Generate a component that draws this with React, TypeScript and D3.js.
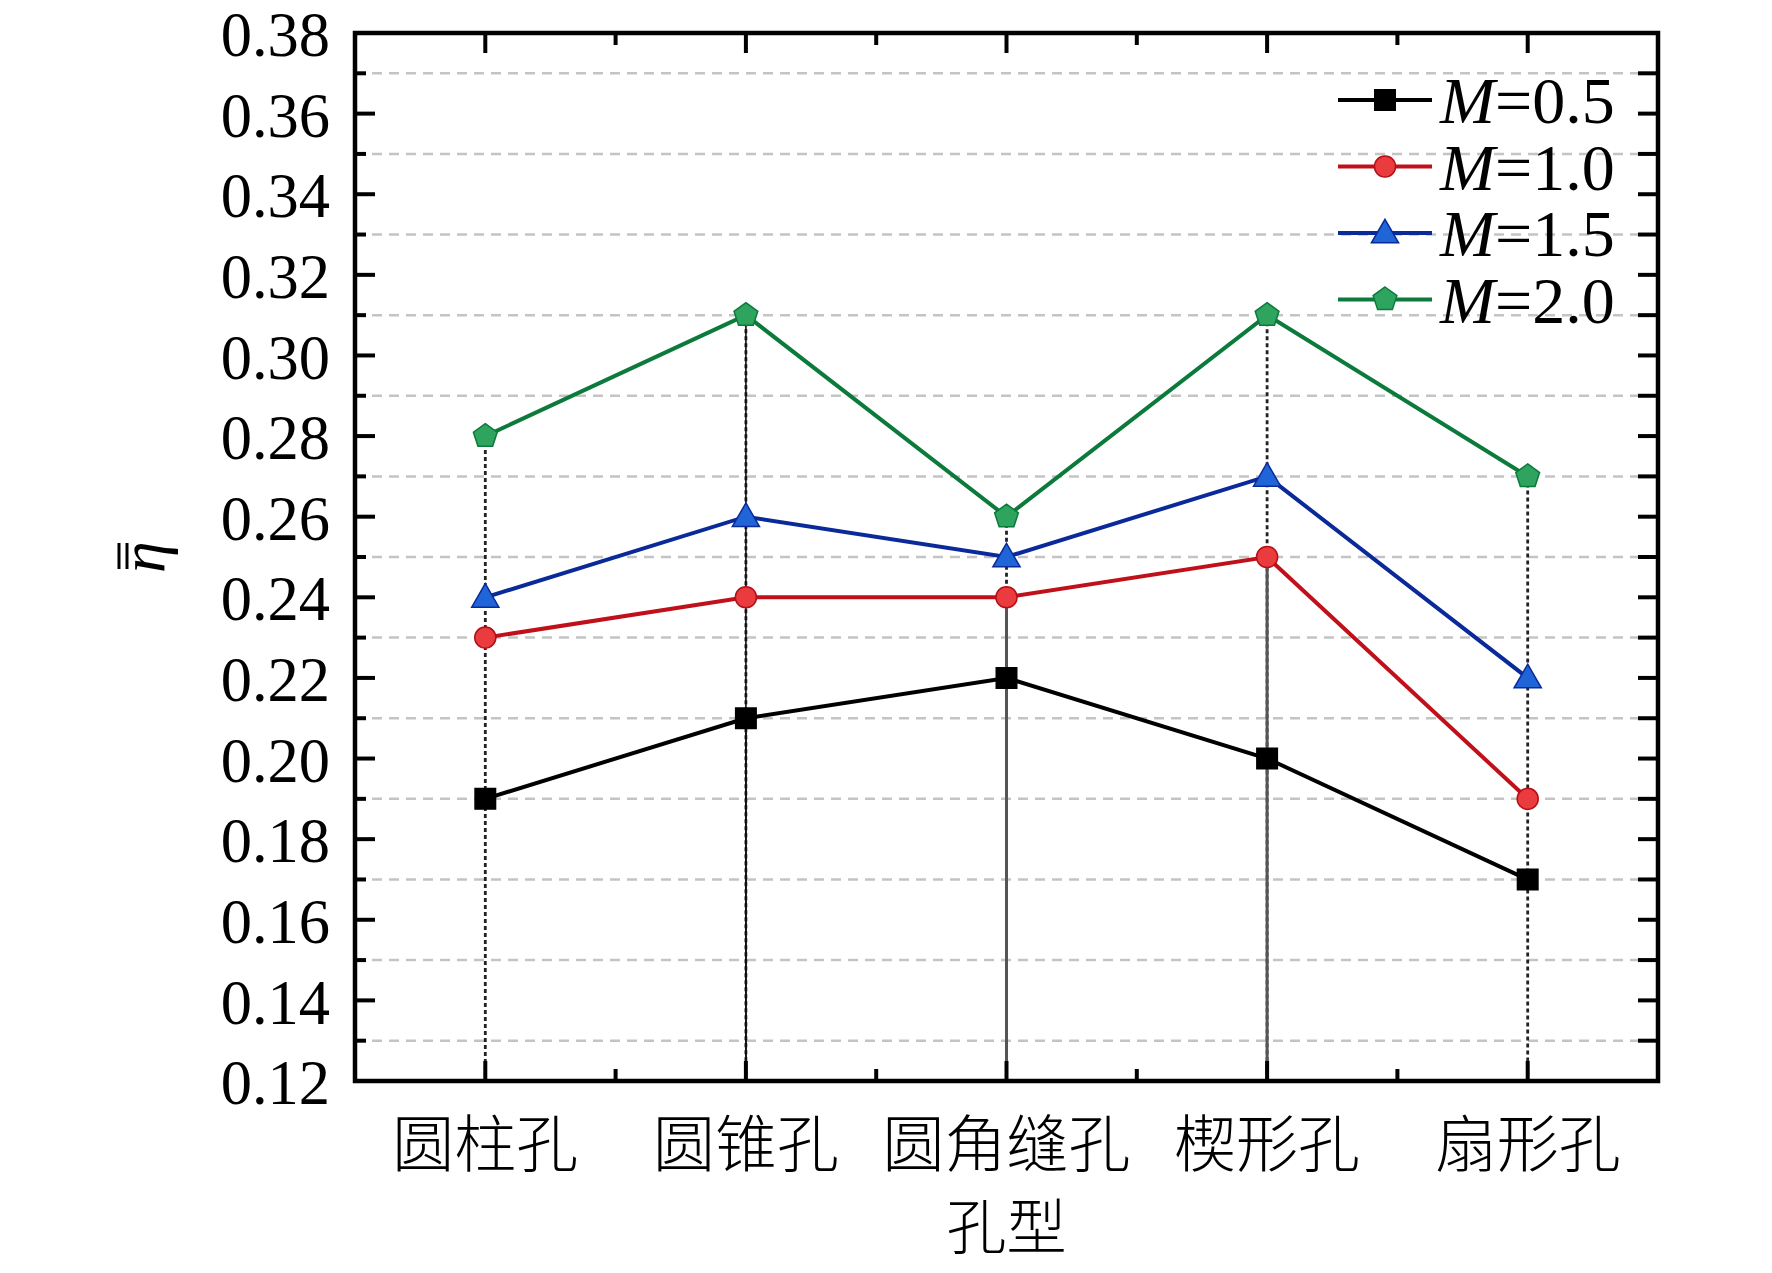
import { useEffect, useRef } from 'react';
import * as d3 from 'd3';

const categories = ['圆柱孔', '圆锥孔', '圆角缝孔', '楔形孔', '扇形孔'];
const seriesNames = ['0.5', '1.0', '1.5', '2.0'];
const m05 = [0.19, 0.21, 0.22, 0.2, 0.17];
const m10 = [0.23, 0.24, 0.24, 0.25, 0.19];
const m15 = [0.24, 0.26, 0.25, 0.27, 0.22];
const m20 = [0.28, 0.31, 0.26, 0.31, 0.27];
const yTicks = [0.12, 0.14, 0.16, 0.18, 0.2, 0.22, 0.24, 0.26, 0.28, 0.3, 0.32, 0.34, 0.36, 0.38];
const gridValues = [0.13, 0.15, 0.17, 0.19, 0.21, 0.23, 0.25, 0.27, 0.29, 0.31, 0.33, 0.35, 0.37];
// solid lower part of the drop line starts at this series (index) or -1 for none
const dropSolidFrom = [-1, 0, 1, 1, -1];

const W = 1772;
const H = 1273;
const margin = { left: 355, right: 114, top: 33, bottom: 192 };

const styles = [
  { line: '#000000', fill: '#000000', stroke: '#000000', shape: 'square' },
  { line: '#c0101a', fill: '#ea3b3f', stroke: '#b50f16', shape: 'circle' },
  { line: '#0a2a9a', fill: '#2065d8', stroke: '#0a2a9a', shape: 'triangle' },
  { line: '#0b7a3b', fill: '#2ea45f', stroke: '#0b7a3b', shape: 'pentagon' },
];

const symbolFor = (shape: string) => {
  if (shape === 'square') return d3.symbol(d3.symbolSquare, 420)();
  if (shape === 'circle') return d3.symbol(d3.symbolCircle, 350)();
  if (shape === 'triangle') return d3.symbol(d3.symbolTriangle, 320)();
  // pentagon
  const r = 12.5;
  const pts = d3.range(5).map((i) => {
    const a = -Math.PI / 2 + (i * 2 * Math.PI) / 5;
    return [r * Math.cos(a), r * Math.sin(a)];
  });
  return 'M' + pts.map((p) => p.join(',')).join('L') + 'Z';
};

export default function App() {
  const svgRef = useRef<SVGSVGElement>(null);

  useEffect(() => {
    if (!svgRef.current) return;
    const svg = d3.select(svgRef.current);
    svg.selectAll('*').remove();

    const x0 = margin.left;
    const x1 = W - margin.right;
    const yTop = margin.top;
    const yBot = H - margin.bottom;

    const x = d3.scalePoint<string>().domain(categories).range([x0, x1]).padding(0.5);
    const y = d3.scaleLinear().domain([0.12, 0.38]).range([yBot, yTop]);
    const step = x.step();

    const serif = '"Liberation Serif", "Times New Roman", serif';
    const cjk = '"Noto Sans CJK SC", sans-serif';

    // grid lines
    svg.append('g')
      .selectAll('line')
      .data(gridValues)
      .join('line')
      .attr('x1', x0)
      .attr('x2', x1)
      .attr('y1', (d) => y(d))
      .attr('y2', (d) => y(d))
      .attr('stroke', '#c4c4c4')
      .attr('stroke-width', 2.5)
      .attr('stroke-dasharray', '10,7');

    const allSeries = [m05, m10, m15, m20];

    // drop lines
    categories.forEach((c, i) => {
      const top = d3.max(allSeries, (s) => s[i]) as number;
      svg.append('line')
        .attr('x1', x(c)!)
        .attr('x2', x(c)!)
        .attr('y1', y(top))
        .attr('y2', yBot)
        .attr('stroke', '#222')
        .attr('stroke-width', 2.8)
        .attr('stroke-dasharray', '4,3');
      const si = dropSolidFrom[i];
      if (si >= 0) {
        svg.append('line')
          .attr('x1', x(c)!)
          .attr('x2', x(c)!)
          .attr('y1', y(allSeries[si][i]))
          .attr('y2', yBot)
          .attr('stroke', si === 0 ? '#111' : '#555')
          .attr('stroke-width', si === 0 ? 1.8 : 3);
      }
    });
    // cat 1 thin black solid from top
    svg.append('line')
      .attr('x1', x(categories[1])!)
      .attr('x2', x(categories[1])!)
      .attr('y1', y(m20[1]))
      .attr('y2', yBot)
      .attr('stroke', '#111')
      .attr('stroke-width', 1.6);

    // series lines + markers
    const lineGen = d3.line<number>()
      .x((_, i) => x(categories[i])!)
      .y((d) => y(d));

    allSeries.forEach((s, k) => {
      const st = styles[k];
      svg.append('path')
        .attr('d', lineGen(s)!)
        .attr('fill', 'none')
        .attr('stroke', st.line)
        .attr('stroke-width', 4);
    });
    allSeries.forEach((s, k) => {
      const st = styles[k];
      svg.append('g')
        .selectAll('path')
        .data(s)
        .join('path')
        .attr('d', symbolFor(st.shape))
        .attr('transform', (d, i) => `translate(${x(categories[i])},${y(d) + (st.shape === 'triangle' ? 2 : 0)})`)
        .attr('fill', st.fill)
        .attr('stroke', st.stroke)
        .attr('stroke-width', 1.5);
    });

    // frame
    svg.append('rect')
      .attr('x', x0)
      .attr('y', yTop)
      .attr('width', x1 - x0)
      .attr('height', yBot - yTop)
      .attr('fill', 'none')
      .attr('stroke', '#000')
      .attr('stroke-width', 4.5);

    // y ticks
    const minorY = d3.range(0.13, 0.38, 0.02).map((v) => +v.toFixed(2));
    const tickG = svg.append('g').attr('stroke', '#000').attr('stroke-width', 4);
    yTicks.forEach((v) => {
      tickG.append('line').attr('x1', x0).attr('x2', x0 + 20).attr('y1', y(v)).attr('y2', y(v));
      tickG.append('line').attr('x1', x1).attr('x2', x1 - 20).attr('y1', y(v)).attr('y2', y(v));
    });
    minorY.forEach((v) => {
      tickG.append('line').attr('x1', x0).attr('x2', x0 + 11).attr('y1', y(v)).attr('y2', y(v));
      tickG.append('line').attr('x1', x1).attr('x2', x1 - 20).attr('y1', y(v)).attr('y2', y(v));
    });
    // x ticks
    categories.forEach((c) => {
      const cx = x(c)!;
      tickG.append('line').attr('x1', cx).attr('x2', cx).attr('y1', yBot).attr('y2', yBot - 20);
      tickG.append('line').attr('x1', cx).attr('x2', cx).attr('y1', yTop).attr('y2', yTop + 20);
    });
    categories.slice(0, -1).forEach((c) => {
      const cx = x(c)! + step / 2;
      tickG.append('line').attr('x1', cx).attr('x2', cx).attr('y1', yBot).attr('y2', yBot - 12);
      tickG.append('line').attr('x1', cx).attr('x2', cx).attr('y1', yTop).attr('y2', yTop + 12);
    });

    // y tick labels
    svg.append('g')
      .selectAll('text')
      .data(yTicks)
      .join('text')
      .attr('x', x0 - 25)
      .attr('y', (d) => y(d))
      .attr('dy', '0.37em')
      .attr('text-anchor', 'end')
      .attr('font-family', serif)
      .attr('font-size', 62.5)
      .attr('fill', '#000')
      .text((d) => d.toFixed(2));

    // x labels
    svg.append('g')
      .selectAll('text')
      .data(categories)
      .join('text')
      .attr('x', (d) => x(d)!)
      .attr('y', yBot + 86)
      .attr('text-anchor', 'middle')
      .attr('font-family', cjk)
      .attr('font-weight', 300)
      .attr('font-size', 62)
      .attr('fill', '#000')
      .text((d) => d);

    svg.append('text')
      .attr('x', (x0 + x1) / 2)
      .attr('y', yBot + 168)
      .attr('text-anchor', 'middle')
      .attr('font-family', cjk)
      .attr('font-weight', 300)
      .attr('font-size', 60)
      .attr('fill', '#000')
      .text('孔型');

    // y axis title: eta with double overbar, rotated
    const yl = svg.append('g').attr('transform', `translate(150,557) rotate(-90)`);
    yl.append('text')
      .attr('x', 0)
      .attr('y', 14)
      .attr('text-anchor', 'middle')
      .attr('font-family', serif)
      .attr('font-style', 'italic')
      .attr('font-size', 64)
      .attr('fill', '#000')
      .text('η');
    [-31, -23].forEach((dy) => {
      yl.append('line')
        .attr('x1', -12)
        .attr('x2', 14)
        .attr('y1', dy)
        .attr('y2', dy)
        .attr('stroke', '#000')
        .attr('stroke-width', 3);
    });

    // legend
    const lg = svg.append('g');
    seriesNames.forEach((name, k) => {
      const st = styles[k];
      const ly = 100 + k * 66.5;
      lg.append('line')
        .attr('x1', 1338)
        .attr('x2', 1432)
        .attr('y1', ly)
        .attr('y2', ly)
        .attr('stroke', st.line)
        .attr('stroke-width', 4);
      lg.append('path')
        .attr('d', symbolFor(st.shape))
        .attr('transform', `translate(1385,${ly + (st.shape === 'triangle' ? 2 : 0)})`)
        .attr('fill', st.fill)
        .attr('stroke', st.stroke)
        .attr('stroke-width', 1.5);
      const t = lg.append('text')
        .attr('x', 1440)
        .attr('y', ly)
        .attr('dy', '0.35em')
        .attr('font-family', serif)
        .attr('font-size', 66)
        .attr('fill', '#000');
      t.append('tspan').attr('font-style', 'italic').text('M');
      t.append('tspan').text('=' + name);
    });
  }, []);

  return (
    <svg
      ref={svgRef}
      width={W}
      height={H}
      style={{ position: 'absolute', left: 0, top: 0, background: '#fff' }}
    />
  );
}
